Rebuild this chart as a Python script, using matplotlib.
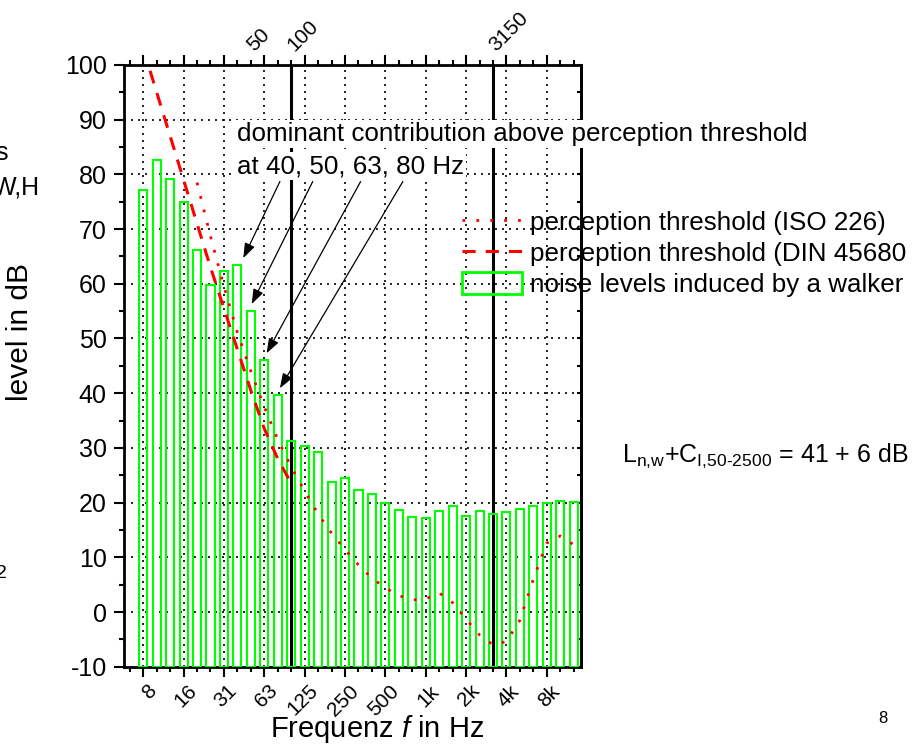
import numpy as np
import matplotlib
matplotlib.use("Agg")
import matplotlib.pyplot as plt
from matplotlib.lines import Line2D
from matplotlib.patches import Rectangle
from matplotlib.transforms import ScaledTranslation

plt.rcParams["font.family"] = ["Liberation Sans", "DejaVu Sans"]
plt.rcParams["mathtext.fontset"] = "custom"
plt.rcParams["mathtext.rm"] = "Liberation Sans"
plt.rcParams["mathtext.it"] = "Liberation Sans:italic"
plt.rcParams["axes.unicode_minus"] = False

# third-octave band centre frequencies in Hz
bands = [8, 10, 12.5, 16, 20, 25, 31.5, 40, 50, 63, 80, 100, 125, 160, 200, 250,
         315, 400, 500, 630, 800, 1000, 1250, 1600, 2000, 2500, 3150, 4000, 5000,
         6300, 8000, 10000, 12500]
# noise levels induced by a walker (dB)
walker_db = [77.2, 82.6, 79.2, 74.9, 66.2, 59.8, 62.3, 63.5, 55.1, 46.1, 39.7, 31.3,
             30.4, 29.3, 23.8, 24.5, 22.3, 21.6, 19.9, 18.6, 17.4, 17.1, 18.5, 19.3,
             17.5, 18.5, 18.0, 18.3, 18.8, 19.3, 19.9, 20.3, 20.2]

# perception threshold ISO 226
iso_freqs = [20, 25, 31.5, 40, 50, 63, 80, 100, 125, 160, 200, 250, 315, 400, 500,
             630, 800, 1000, 1250, 1600, 2000, 2500, 3150, 4000, 5000, 6300, 8000,
             10000, 12500]
iso_db = [78.5, 68.7, 59.5, 51.1, 44.0, 37.5, 31.5, 26.5, 22.1, 17.9, 14.4, 11.4, 8.6,
          6.2, 4.4, 3.0, 2.2, 2.4, 3.5, 1.7, -1.3, -4.2, -6.0, -5.4, -1.5, 6.0, 12.6,
          13.9, 12.3]

# perception threshold DIN 45680
din_freqs = [8, 10, 12.5, 16, 20, 25, 31.5, 40, 50, 63, 80, 100]
din_db = [103, 95, 87, 79, 71, 63, 55.5, 48, 40.5, 33.5, 28, 23.5]

tick_labels = ["8", "16", "31", "63", "125", "250", "500", "1k", "2k", "4k", "8k"]
marker_freqs = [100, 3150]          # solid vertical lines
top_label_freqs = [50, 100, 3150]   # labels on top axis
dominant_freqs = [40, 50, 63, 80]   # bars the arrows point at

Y_MIN, Y_MAX = -10, 100
GREEN = "#00ff00"
RED = "#ff0000"
FS = 18.7

W, H = 922, 744
fig = plt.figure(figsize=(W / 100, H / 100), dpi=100)
ax = fig.add_axes([124 / W, 1 - 666.7 / H, (580.7 - 124) / W, (666.7 - 65) / H])

idx = np.arange(len(bands))
band_pos = {f: i for i, f in enumerate(bands)}

ax.bar(idx, np.array(walker_db) - Y_MIN, bottom=Y_MIN, width=0.6,
       facecolor="none", edgecolor=GREEN, linewidth=1.5, zorder=3)
ax.plot([band_pos[f] for f in iso_freqs], iso_db, color=RED, lw=2,
        linestyle=(0, (1, 4)), zorder=4)
ax.plot([band_pos[f] for f in din_freqs], din_db, color=RED, lw=2.2,
        linestyle=(0, (4.3, 3.3)), zorder=4)

for f in marker_freqs:
    ax.axvline(band_pos[f], color="black", lw=2.2, zorder=2)

ax.set_xlim(-1.43, 32.52)
ax.set_ylim(Y_MIN, Y_MAX)
ax.set_xticks(idx[::3], labels=tick_labels)
ax.set_xticks(np.arange(-1, len(bands)), minor=True)
ax.set_yticks(np.arange(Y_MIN, Y_MAX + 1, 10))
ax.set_yticks(np.arange(Y_MIN, Y_MAX + 1, 5), minor=True)
ax.grid(True, which="major", color="black", linestyle=(0, (1.2, 3)), lw=1.2)

ax.tick_params(which="major", direction="out", length=7.5, width=1.5, labelsize=18)
ax.tick_params(which="minor", direction="out", length=3.6, width=1.5)
ax.tick_params(axis="x", which="both", top=True, pad=3, labelsize=15)
ax.tick_params(axis="y", pad=5)
for s in ax.spines.values():
    s.set_linewidth(2)

offset = ScaledTranslation(0.17, 0, fig.dpi_scale_trans)
for lab in ax.get_xticklabels():
    lab.set_rotation(45)
    lab.set_ha("right")
    lab.set_transform(lab.get_transform() + offset)

secy = ax.secondary_yaxis("right")
secy.set_yticks(np.arange(Y_MIN, Y_MAX + 1, 5))
secy.tick_params(direction="in", length=3, width=1.5, labelright=False)
secy.spines["right"].set_linewidth(2)

for f in top_label_freqs:
    ax.annotate(f"{f}", xy=(band_pos[f], 1), xycoords=("data", "axes fraction"),
                xytext=(-5, 7.5), textcoords="offset points", rotation=45,
                ha="left", va="bottom", fontsize=15)

# annotation text with white background
fig.text(237 / W, 1 - 140.7 / H, "dominant contribution above perception threshold",
         fontsize=FS, ha="left", va="baseline",
         bbox=dict(facecolor="white", edgecolor="none", pad=1.5))
fig.text(237 / W, 1 - 173.3 / H, "at 40, 50, 63, 80 Hz",
         fontsize=FS, ha="left", va="baseline",
         bbox=dict(facecolor="white", edgecolor="none", pad=1.5))

tail_x = [10.16, 12.6, 16.16, 19.3]
tip_dx = [0.44, 0.06, 0.17, 0.16]
for f, tx, dx in zip(dominant_freqs, tail_x, tip_dx):
    i = band_pos[f]
    ax.annotate("", xy=(i + dx, walker_db[i] + 1.2), xytext=(tx, 78.7),
                arrowprops=dict(arrowstyle="-|>,head_length=0.5,head_width=0.18",
                                color="black", lw=0.9, mutation_scale=18,
                                shrinkA=0, shrinkB=0), zorder=6)

handles = [
    Line2D([], [], color=RED, lw=2, linestyle=(0, (1, 4))),
    Line2D([], [], color=RED, lw=2.2, linestyle=(0, (4.3, 3.3))),
    Rectangle((0, 0), 1, 1, facecolor="none", edgecolor=GREEN, lw=2),
]
labels = ["perception threshold (ISO 226)", "perception threshold (DIN 45680",
          "noise levels induced by a walker"]
ax.legend(handles, labels, loc="upper left", bbox_to_anchor=(462 / W, 1 - 210 / H),
          bbox_transform=fig.transFigure, frameon=False, fontsize=FS,
          handlelength=2.3, handletextpad=0.3, labelspacing=0.25, borderpad=0,
          borderaxespad=0, handleheight=0.89)

fig.text(377.5 / W, 1 - 737 / H, r"Frequenz $\mathit{f}$ in Hz", fontsize=21,
         ha="center", va="baseline")
fig.text(20 / W, 1 - 332 / H, "level in dB", fontsize=21.5, rotation=90,
         ha="center", va="center")

fig.text(622 / W, 1 - 462 / H,
         r"L$_{\text{n,w}}$+C$_{\text{I,50-2500}}$ = 41 + 6 dB",
         fontsize=18, ha="left", va="baseline")
fig.text(883 / W, 1 - 723 / H, "8", fontsize=12, ha="center", va="baseline")

# fragments of text cut off at the left edge
fig.text(8 / W, 1 - 160 / H, "s", fontsize=18, ha="right", va="baseline")
fig.text(40 / W, 1 - 194 / H, "W,H", fontsize=18, ha="right", va="baseline")
fig.text(7 / W, 1 - 578 / H, "2", fontsize=14, ha="right", va="baseline")

fig.savefig("out.png", dpi=100)
